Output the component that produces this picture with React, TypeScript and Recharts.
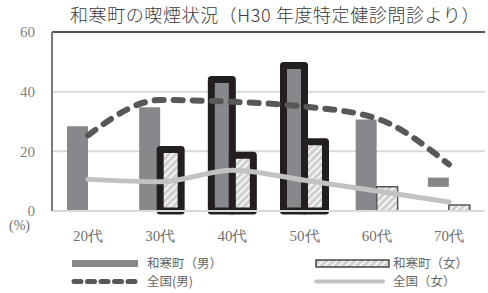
import React from 'react';
import {
  ComposedChart, Bar, Line, XAxis, YAxis, CartesianGrid, ReferenceLine, Cell,
} from 'recharts';

const categories = ['20代', '30代', '40代', '50代', '60代', '70代'];
const townMale = [28.4, 34.8, 44.1, 48.8, 30.7, 11.2];
const townMaleHiddenBelow = [0, 0, 0, 0, 0, 8.1];
const townFemale: (number | null)[] = [null, 20.6, 18.7, 23.2, 8.1, 2.0];
const nationalMale = [25.4, 37.2, 36.6, 35.0, 31.0, 15.6];
const nationalFemale = [10.6, 9.8, 13.7, 10.3, 6.7, 3.0];
const yTicks = [0, 20, 40, 60];

const emphMale = ['40代', '50代'];
const emphFemale = ['30代', '40代', '50代'];

const data = categories.map((c, i) => ({
  cat: c,
  mBase: townMaleHiddenBelow[i],
  mVis: townMale[i] - townMaleHiddenBelow[i],
  f: townFemale[i],
  nm: nationalMale[i],
  nf: nationalFemale[i],
}));

const MALE_FILL = '#87888c';
const DASH = '#58585a';
const FLINE = '#c2c2c2';
const BLACK = '#231f20';

const serif = '"Liberation Serif", "DejaVu Serif", serif';
const cjk = '"Noto Sans CJK JP", sans-serif';

export default function App() {
  return (
    <div style={{ position: 'absolute', left: 0, top: 0, width: 488, height: 293, background: '#fff', overflow: 'hidden' }}>
      <div style={{ position: 'absolute', left: 0, width: 488, top: 2, textAlign: 'center', paddingLeft: 62, boxSizing: 'border-box', fontFamily: cjk, fontSize: 18, fontWeight: 300, color: '#3a3a3a', letterSpacing: 0.6, lineHeight: '24px', whiteSpace: 'nowrap' }}>
        和寒町の喫煙状況（H30 年度特定健診問診より）
      </div>
      <ComposedChart width={488} height={293} data={data} margin={{ top: 32, right: 3, bottom: 0, left: 0 }} barGap={0} barSize={21}>
        <defs>
          <pattern id="hatch" width="5" height="5" patternUnits="userSpaceOnUse" patternTransform="rotate(45)">
            <rect width="5" height="5" fill="#cfcfcf" />
            <rect width="2" height="5" fill="#f4f4f4" />
          </pattern>
        </defs>
        <CartesianGrid vertical={false} stroke="#d9d9d9" strokeWidth={2} />
        <XAxis dataKey="cat" height={82} tickLine={false} tickSize={0} tickMargin={19} axisLine={{ stroke: '#d9d9d9', strokeWidth: 2 }} tick={{ fill: '#6f6f6f', fontSize: 15, fontFamily: serif }} interval={0} />
        <YAxis domain={[0, 60]} ticks={yTicks} width={52} tickLine={false} tickSize={0} tickMargin={17} axisLine={{ stroke: '#7a7a7a', strokeWidth: 2 }} tick={{ fill: '#7f7f7f', fontSize: 15, fontFamily: serif }} />
        <YAxis yAxisId="r" orientation="right" width={0} tick={false} tickLine={false} axisLine={{ stroke: '#555', strokeWidth: 2 }} />
        <ReferenceLine y={60} stroke="#555" strokeWidth={2} />
        <Bar dataKey="mBase" stackId="m" fill="transparent" isAnimationActive={false} />
        <Bar dataKey="mVis" stackId="m" fill={MALE_FILL} isAnimationActive={false}>
          {data.map((d) => (
            <Cell key={d.cat} stroke={emphMale.includes(d.cat) ? BLACK : 'none'} strokeWidth={emphMale.includes(d.cat) ? 7 : 0} strokeLinejoin="round" />
          ))}
        </Bar>
        <Bar dataKey="f" fill="url(#hatch)" isAnimationActive={false}>
          {data.map((d) => (
            <Cell key={d.cat} stroke={emphFemale.includes(d.cat) ? BLACK : '#555'} strokeWidth={emphFemale.includes(d.cat) ? 7 : 1.5} strokeLinejoin="round" />
          ))}
        </Bar>
        <Line type="monotone" dataKey="nf" stroke={FLINE} strokeWidth={5} dot={false} strokeLinecap="round" isAnimationActive={false} />
        <Line type="monotone" dataKey="nm" stroke={DASH} strokeWidth={6} strokeDasharray="9 10" strokeLinecap="round" dot={false} isAnimationActive={false} />
      </ComposedChart>
      <div style={{ position: 'absolute', left: 9, top: 218, fontFamily: serif, fontSize: 14, color: '#6f6f6f' }}>(%)</div>
      <svg style={{ position: 'absolute', left: 0, top: 250 }} width={488} height={43}>
        <defs>
          <pattern id="hatchL" width="5" height="5" patternUnits="userSpaceOnUse" patternTransform="rotate(45)">
            <rect width="5" height="5" fill="#cfcfcf" />
            <rect width="2" height="5" fill="#f4f4f4" />
          </pattern>
        </defs>
        <rect x={72} y={10} width={66} height={7} fill={MALE_FILL} />
        <rect x={316} y={10} width={73} height={7} fill="url(#hatchL)" stroke="#444" strokeWidth={1.5} />
        <line x1={74} y1={31.5} x2={139} y2={31.5} stroke={DASH} strokeWidth={5} strokeDasharray="7 6.5" strokeLinecap="round" />
        <line x1={316} y1={31.5} x2={383} y2={31.5} stroke={FLINE} strokeWidth={4} strokeLinecap="round" />
        <g fontFamily={cjk} fontSize={12.5} fill="#666">
          <text x={147} y={18}>和寒町（男）</text>
          <text x={393} y={18}>和寒町（女）</text>
          <text x={147} y={36}>全国(男)</text>
          <text x={393} y={36}>全国（女）</text>
        </g>
      </svg>
    </div>
  );
}
